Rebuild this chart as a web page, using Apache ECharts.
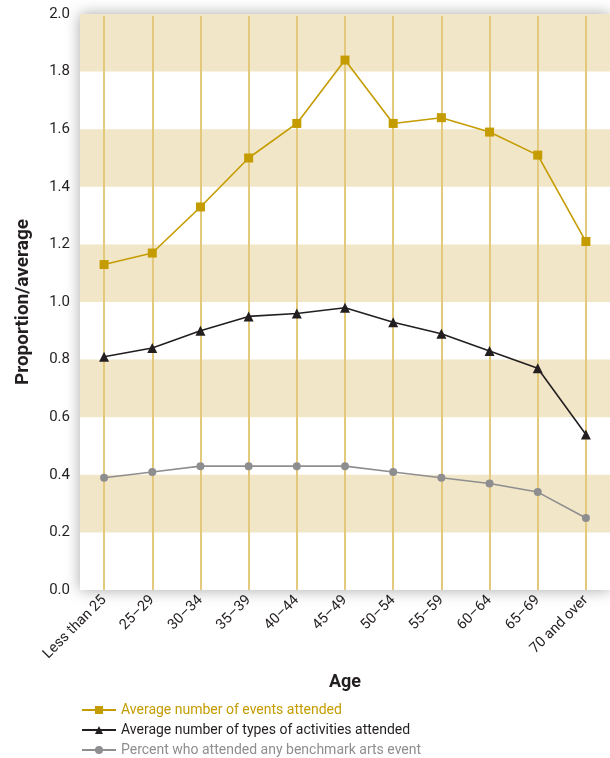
<!DOCTYPE html>
<html><head><meta charset="utf-8">
<script src="https://cdn.jsdelivr.net/npm/echarts@6/dist/echarts.min.js"></script>
<style>html,body{margin:0;padding:0;background:#fff}#c{width:610px;height:758px}</style>
</head><body><div id="c"></div>
<script>
const categories = ['Less than 25','25–29','30–34','35–39','40–44','45–49','50–54','55–59','60–64','65–69','70 and over'];
const eventsAttended = [1.13,1.17,1.33,1.50,1.62,1.84,1.62,1.64,1.59,1.51,1.21];
const typesAttended = [0.81,0.84,0.90,0.95,0.96,0.98,0.93,0.89,0.83,0.77,0.54];
const percentAttended = [0.39,0.41,0.43,0.43,0.43,0.43,0.41,0.39,0.37,0.34,0.25];
const seriesNames = ['Average number of events attended','Average number of types of activities attended','Percent who attended any benchmark arts event'];

const FONT = 'Roboto, sans-serif';
const GOLD = '#c49c00', BLACK = '#231f20', GREY = '#8e8e90';
const chart = echarts.init(document.getElementById('c'));
chart.setOption({
  animation: false,
  textStyle: {fontFamily: FONT},
  grid: {left: 80, width: 530, top: 14, height: 576, show: true, backgroundColor: '#fff', borderWidth: 0,
         shadowColor: 'rgba(0,0,0,0.35)', shadowBlur: 14},
  xAxis: {
    type: 'category', data: categories, boundaryGap: true, z: 1,
    name: 'Age', nameLocation: 'middle', nameGap: 83,
    nameTextStyle: {fontFamily: FONT, fontWeight: 'bold', fontSize: 18, color: BLACK},
    axisLine: {show: false},
    axisTick: {show: true, inside: true, alignWithLabel: true, interval: 0, length: 574,
               lineStyle: {color: '#e3c97b', width: 2}},
    axisLabel: {interval: 0, rotate: 45, margin: 8, fontSize: 14.5, color: BLACK, fontFamily: FONT}
  },
  yAxis: {
    type: 'value', min: 0, max: 2, interval: 0.2,
    name: 'Proportion/average', nameLocation: 'middle', nameGap: 47,
    nameTextStyle: {fontFamily: FONT, fontWeight: 'bold', fontSize: 19, color: BLACK},
    axisLine: {show: false}, axisTick: {show: false},
    splitLine: {show: false},
    splitArea: {show: true, areaStyle: {color: ['rgba(255,255,255,0)', '#f2e6c8']}},
    axisLabel: {margin: 10, fontSize: 15, color: BLACK, fontFamily: FONT, formatter: v => v.toFixed(1)}
  },
  legend: {
    orient: 'vertical', left: 76, top: 698, height: 90, itemGap: 6, itemWidth: 34, itemHeight: 10,
    textStyle: {fontFamily: FONT, fontSize: 14},
    data: [
      {name: seriesNames[0], textStyle: {color: GOLD}},
      {name: seriesNames[1], textStyle: {color: BLACK}},
      {name: seriesNames[2], textStyle: {color: GREY}}
    ]
  },
  series: [
    {name: seriesNames[0], type: 'line', data: eventsAttended, symbol: 'rect', symbolSize: 9,
     itemStyle: {color: GOLD}, lineStyle: {color: GOLD, width: 1.6}, z: 5},
    {name: seriesNames[1], type: 'line', data: typesAttended, symbol: 'triangle', symbolSize: 10,
     itemStyle: {color: BLACK}, lineStyle: {color: BLACK, width: 1.6}, z: 5},
    {name: seriesNames[2], type: 'line', data: percentAttended, symbol: 'circle', symbolSize: 8,
     itemStyle: {color: GREY}, lineStyle: {color: GREY, width: 1.6}, z: 5}
  ]
});
</script></body></html>
